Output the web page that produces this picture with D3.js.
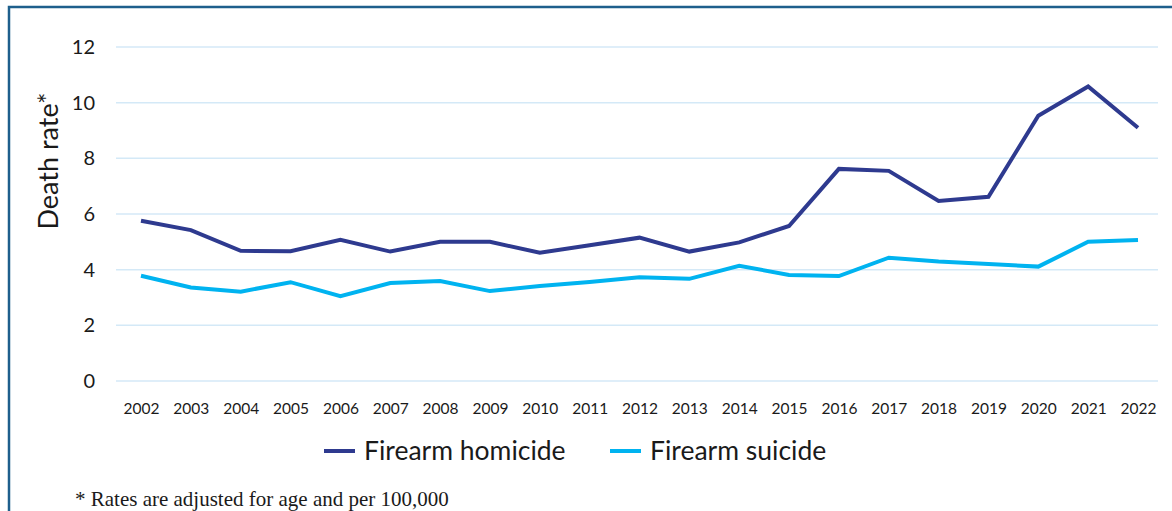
<!DOCTYPE html>
<html>
<head>
<meta charset="utf-8">
<script src="https://cdn.jsdelivr.net/npm/d3@7"></script>
<style>
    body { margin: 0; background: #fff; }
    svg { display: block; }
</style>
</head>
<body>
<div id="chart"></div>
<script>
// data
let years = [2002, 2003, 2004, 2005, 2006, 2007, 2008, 2009, 2010, 2011, 2012,
             2013, 2014, 2015, 2016, 2017, 2018, 2019, 2020, 2021, 2022];
let homicide = [5.76, 5.42, 4.68, 4.66, 5.07, 4.65, 5.0, 5.0, 4.61, 4.88, 5.15,
                4.65, 4.98, 5.57, 7.62, 7.55, 6.47, 6.62, 9.53, 10.58, 9.1];
let suicide = [3.78, 3.36, 3.21, 3.55, 3.05, 3.52, 3.59, 3.23, 3.41, 3.56, 3.73,
               3.67, 4.14, 3.81, 3.77, 4.43, 4.29, 4.2, 4.11, 5.0, 5.07];
let yTicks = [0, 2, 4, 6, 8, 10, 12];
let seriesNames = ["Firearm homicide", "Firearm suicide"];
let seriesColors = ["#2e3a8f", "#00b3f0"];

let width = 1172, height = 511;
let svg = d3.select("#chart").append("svg")
    .attr("width", width)
    .attr("height", height);

// frame
svg.append("rect")
    .attr("x", 9).attr("y", 7)
    .attr("width", width + 20).attr("height", height + 20)
    .attr("fill", "none")
    .attr("stroke", "#1e5f8c")
    .attr("stroke-width", 2.5);

// scales
let x = d3.scalePoint()
    .domain(years)
    .range([141, 1138]);
let y = d3.scaleLinear()
    .domain([0, 12])
    .range([381, 47]);

let font = "Lato, 'Open Sans', sans-serif";

// gridlines
svg.append("g")
    .selectAll("line")
    .data(yTicks)
    .enter().append("line")
    .attr("x1", 116).attr("x2", 1158)
    .attr("y1", d => y(d)).attr("y2", d => y(d))
    .attr("stroke", "#d4e9f7")
    .attr("stroke-width", 1.5);

// y axis labels
let yAxis = d3.axisLeft(y).tickValues(yTicks).tickSize(0).tickPadding(0);
svg.append("g")
    .attr("transform", "translate(95,0)")
    .call(yAxis)
    .call(g => g.select(".domain").remove())
    .selectAll("text")
    .attr("font-family", font)
    .attr("font-size", 20)
    .attr("fill", "#1a1a1a");

// x axis labels
let xAxis = d3.axisBottom(x).tickSize(0).tickPadding(0).tickFormat(d => d);
svg.append("g")
    .attr("transform", "translate(0,403)")
    .call(xAxis)
    .call(g => g.select(".domain").remove())
    .selectAll("text")
    .attr("font-family", font)
    .attr("font-size", 15.5)
    .attr("fill", "#1a1a1a");

// y title
svg.append("text")
    .attr("transform", "translate(58,161) rotate(-90)")
    .attr("text-anchor", "middle")
    .attr("font-family", font)
    .attr("font-size", 27)
    .attr("fill", "#1a1a1a")
    .text("Death rate*");

// lines
let line = d3.line()
    .x((d, i) => x(years[i]))
    .y(d => y(d));

[homicide, suicide].forEach((s, i) => {
    svg.append("path")
        .datum(s)
        .attr("fill", "none")
        .attr("stroke", seriesColors[i])
        .attr("stroke-width", 4)
        .attr("stroke-linejoin", "miter")
        .attr("d", line);
});

// legend
let legendX = [324, 610];
let legend = svg.append("g")
    .selectAll("g")
    .data(seriesNames)
    .enter().append("g")
    .attr("transform", (d, i) => "translate(" + legendX[i] + ",451)");
legend.append("line")
    .attr("x1", 0).attr("x2", 31)
    .attr("stroke", (d, i) => seriesColors[i])
    .attr("stroke-width", 4);
legend.append("text")
    .attr("x", 40)
    .attr("dy", "0.35em")
    .attr("font-family", font)
    .attr("font-size", 26.5)
    .attr("fill", "#1a1a1a")
    .text(d => d);

// footnote
svg.append("text")
    .attr("x", 75).attr("y", 506)
    .attr("font-family", "'Liberation Serif', 'DejaVu Serif', serif")
    .attr("font-size", 21)
    .attr("fill", "#1a1a1a")
    .text("* Rates are adjusted for age and per 100,000");
</script>
</body>
</html>
